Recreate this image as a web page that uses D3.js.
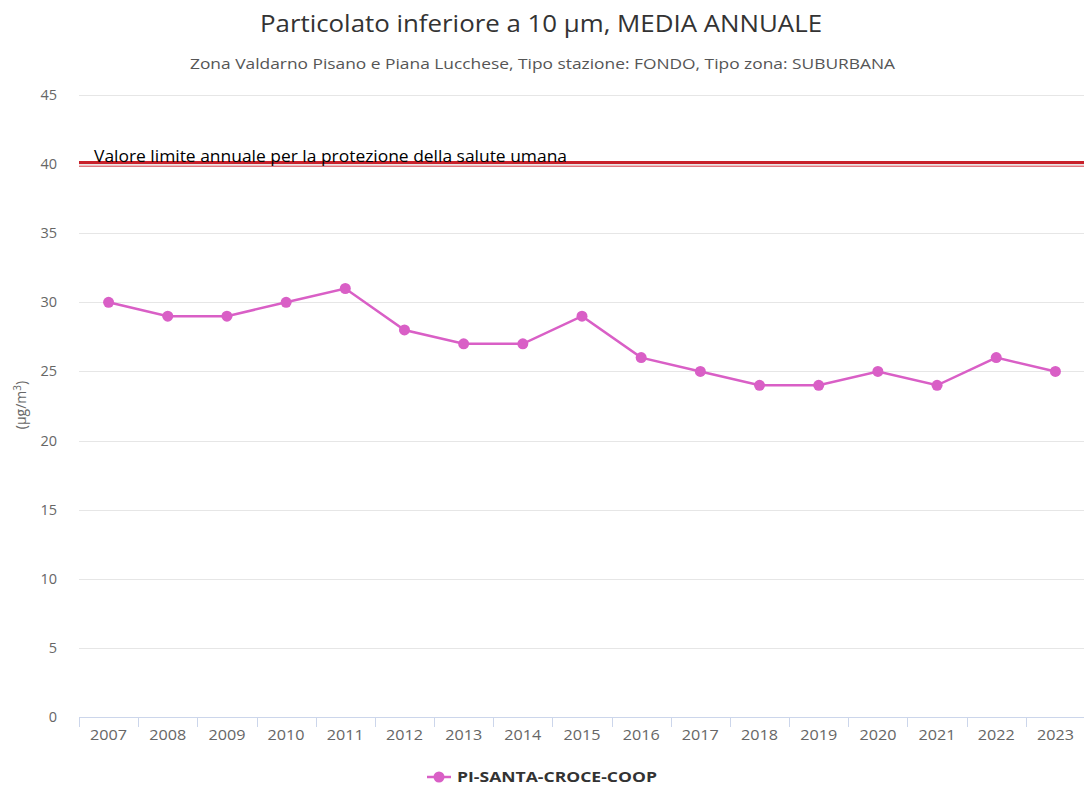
<!DOCTYPE html>
<html><head><meta charset="utf-8">
<script src="https://cdn.jsdelivr.net/npm/d3@7"></script>
<style>body{margin:0;background:#fff}svg{display:block}</style>
</head><body>
<script>
const years = ["2007","2008","2009","2010","2011","2012","2013","2014","2015","2016","2017","2018","2019","2020","2021","2022","2023"];
const values = [30,29,29,30,31,28,27,27,29,26,25,24,24,25,24,26,25];
const yTicks = [0,5,10,15,20,25,30,35,40,45];
const seriesName = "PI-SANTA-CROCE-COOP";
const limitValue = 40;
const limitLabel = "Valore limite annuale per la protezione della salute umana";

const W=1084,H=785;
const svg=d3.select("body").append("svg").attr("width",W).attr("height",H);
const m={l:79,r:1085,t:95,b:717};
const x=d3.scaleBand().domain(years).range([m.l,m.r]);
const y=d3.scaleLinear().domain([0,45]).range([m.b,m.t]);
const font="'Open Sans', sans-serif";

svg.append("text").attr("x",260).attr("y",32)
  .attr("font-family",font).attr("font-size",24).attr("fill","#333")
  .attr("textLength",562).attr("lengthAdjust","spacingAndGlyphs")
  .text("Particolato inferiore a 10 µm, MEDIA ANNUALE");
svg.append("text").attr("x",190).attr("y",69)
  .attr("font-family",font).attr("font-size",15).attr("fill","#555")
  .attr("textLength",705).attr("lengthAdjust","spacingAndGlyphs")
  .text("Zona Valdarno Pisano e Piana Lucchese, Tipo stazione: FONDO, Tipo zona: SUBURBANA");

// grid
svg.append("g").selectAll("line").data(yTicks.filter(d=>d>0)).join("line")
  .attr("x1",m.l).attr("x2",W).attr("y1",d=>Math.round(y(d))+0.5).attr("y2",d=>Math.round(y(d))+0.5)
  .attr("stroke","#e6e6e6");
svg.append("g").selectAll("text").data(yTicks).join("text")
  .attr("x",57).attr("y",d=>y(d)+5).attr("text-anchor","end")
  .attr("font-family",font).attr("font-size",14.5).attr("fill","#666").text(d=>d);

// x axis
const xa=svg.append("g").attr("transform",`translate(0,${m.b})`)
  .call(d3.axisBottom(x).tickSize(0).tickPadding(0));
xa.select(".domain").remove();
xa.selectAll("text").attr("font-family",font).attr("font-size",15).attr("fill","#666").attr("dy","1.55em")
  .attr("textLength",37).attr("lengthAdjust","spacingAndGlyphs");
svg.append("line").attr("x1",m.l).attr("x2",W).attr("y1",m.b+0.5).attr("y2",m.b+0.5).attr("stroke","#ccd6eb");
svg.append("g").selectAll("line").data(years).join("line")
  .attr("x1",d=>Math.round(x(d))+0.5).attr("x2",d=>Math.round(x(d))+0.5)
  .attr("y1",m.b).attr("y2",m.b+10).attr("stroke","#ccd6eb");

// y axis title
svg.append("text").attr("transform",`translate(26,405) rotate(-90)`).attr("text-anchor","middle")
  .attr("font-family",font).attr("font-size",14).attr("fill","#666")
  .html('(µg/m<tspan dy="-5" font-size="10">3</tspan><tspan dy="5">)</tspan>');

// limit line
svg.append("line").attr("x1",m.l).attr("x2",W).attr("y1",y(limitValue)-1.5).attr("y2",y(limitValue)-1.5)
  .attr("stroke","#c8202a").attr("stroke-width",3);
svg.append("line").attr("x1",m.l).attr("x2",W).attr("y1",y(limitValue)+2.2).attr("y2",y(limitValue)+2.2)
  .attr("stroke","#e07a80").attr("stroke-width",1.5);
svg.append("text").attr("x",94).attr("y",y(limitValue)-2).attr("font-family",font).attr("font-size",16).attr("fill","#000")
  .attr("textLength",473).attr("lengthAdjust","spacingAndGlyphs")
  .text(limitLabel);

// series
const color="#d95fc6";
const line=d3.line().x((d,i)=>x(years[i])+x.bandwidth()/2).y(d=>y(d));
svg.append("path").datum(values).attr("d",line).attr("fill","none").attr("stroke",color).attr("stroke-width",2.5);
svg.append("g").selectAll("circle").data(values).join("circle")
  .attr("cx",(d,i)=>x(years[i])+x.bandwidth()/2).attr("cy",d=>y(d)).attr("r",5.5).attr("fill",color);

// legend
const lg=svg.append("g").attr("transform","translate(427,777)");
lg.append("line").attr("x1",0).attr("x2",24).attr("y1",0).attr("y2",0).attr("stroke",color).attr("stroke-width",2.5);
lg.append("circle").attr("cx",12).attr("cy",0).attr("r",5.5).attr("fill",color);
lg.append("text").attr("x",30).attr("y",5).attr("font-family",font).attr("font-size",15).attr("font-weight","bold").attr("fill","#333")
  .attr("textLength",200).attr("lengthAdjust","spacingAndGlyphs").text(seriesName);
</script>
</body></html>
